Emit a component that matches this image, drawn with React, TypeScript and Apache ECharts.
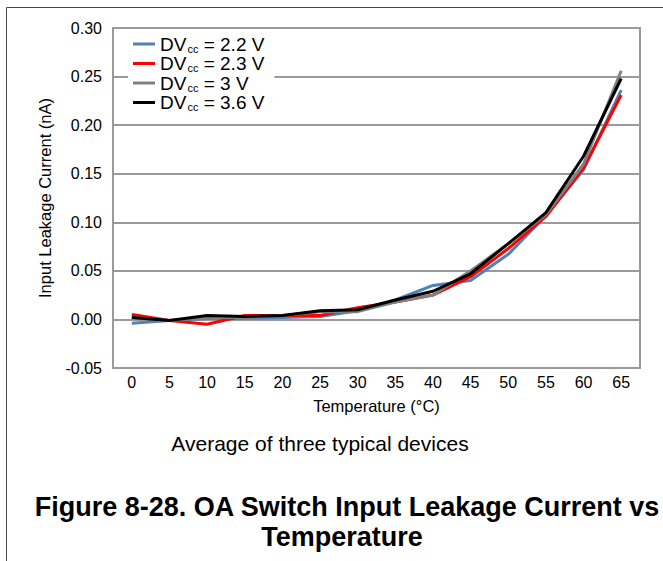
import React, { useEffect, useRef } from "react";
import * as echarts from "echarts";

// Temperature steps (°C)
const temperatures = ["0", "5", "10", "15", "20", "25", "30", "35", "40", "45", "50", "55", "60", "65"];

// Supply voltages for each curve
const supplyLabels = ["2.2", "2.3", "3", "3.6"];

// Input leakage current (nA) per supply voltage
const leak22 = [-0.004, -0.001, 0.001, 0.001, 0.002, 0.003, 0.009, 0.02, 0.035, 0.04, 0.067, 0.107, 0.154, 0.236];
const leak23 = [0.005, -0.001, -0.005, 0.004, 0.004, 0.004, 0.012, 0.018, 0.025, 0.044, 0.073, 0.106, 0.156, 0.231];
const leak30 = [0.002, -0.001, 0.002, 0.002, 0.004, 0.008, 0.008, 0.018, 0.025, 0.05, 0.078, 0.108, 0.16, 0.256];
const leak36 = [0.002, -0.001, 0.004, 0.003, 0.004, 0.009, 0.01, 0.02, 0.029, 0.047, 0.078, 0.11, 0.168, 0.248];

const seriesColors = ["#4f81bd", "#ff0000", "#808080", "#000000"];

const yTicks = { min: -0.05, max: 0.3, step: 0.05 };

const FONT = "'Liberation Sans', Arial, sans-serif";

export default function App() {
  const ref = useRef<HTMLDivElement>(null);

  useEffect(() => {
    if (!ref.current) return;
    const chart = echarts.init(ref.current, null, { renderer: "svg" });
    const values = [leak22, leak23, leak30, leak36];

    chart.setOption({
      animation: false,
      backgroundColor: "#ffffff",
      textStyle: { fontFamily: FONT },
      grid: {
        left: 113,
        top: 28,
        right: 23,
        bottom: 193,
        show: true,
        borderColor: "#9a9a9a",
        borderWidth: 2,
        containLabel: false,
      },
      legend: {
        orient: "vertical",
        left: 128,
        top: 34,
        backgroundColor: "#ffffff",
        padding: [0, 10, 1, 5],
        itemWidth: 22,
        itemHeight: 3,
        itemGap: -0.5,
        icon: "rect",
        data: supplyLabels,
        formatter: (name: string) => `{a|DV}{b|cc}{a| = ${name} V}`,
        textStyle: {
          rich: {
            a: { fontSize: 19, lineHeight: 19, color: "#000", fontFamily: FONT },
            b: { fontSize: 11, lineHeight: 11, color: "#000", fontFamily: FONT, padding: [9, 0, 0, 1] },
          },
        },
      },
      xAxis: {
        type: "category",
        data: temperatures,
        boundaryGap: true,
        name: "Temperature (°C)",
        nameLocation: "middle",
        nameGap: 29,
        nameTextStyle: { fontSize: 16.5, color: "#000", fontFamily: FONT },
        axisLine: { show: true, lineStyle: { color: "#9a9a9a", width: 2 } },
        axisTick: { show: false },
        axisLabel: { fontSize: 16, color: "#000", margin: 6, fontFamily: FONT },
      },
      yAxis: {
        type: "value",
        min: yTicks.min,
        max: yTicks.max,
        interval: yTicks.step,
        name: "Input Leakage Current (nA)",
        nameLocation: "middle",
        nameGap: 60,
        nameTextStyle: { fontSize: 16.5, color: "#000", fontFamily: FONT },
        axisLine: { show: true, lineStyle: { color: "#9a9a9a", width: 2 } },
        axisTick: { show: false },
        axisLabel: {
          fontSize: 16,
          color: "#000",
          margin: 11,
          fontFamily: FONT,
          formatter: (v: number) => v.toFixed(2),
        },
        splitLine: { show: true, lineStyle: { color: "#9a9a9a", width: 2 } },
      },
      series: supplyLabels.map((name, i) => ({
        name,
        type: "line",
        data: values[i],
        showSymbol: false,
        symbol: "none",
        color: seriesColors[i],
        lineStyle: { width: 3, color: seriesColors[i] },
        z: 2 + i,
      })),
      graphic: [
        {
          type: "line",
          shape: { x1: 6.5, y1: 7.5, x2: 663, y2: 7.5 },
          style: { stroke: "#444", lineWidth: 1 },
        },
        {
          type: "line",
          shape: { x1: 6.5, y1: 7.5, x2: 6.5, y2: 561 },
          style: { stroke: "#444", lineWidth: 1 },
        },
        {
          type: "text",
          x: 320,
          y: 443,
          style: {
            text: "Average of three typical devices",
            fontSize: 21,
            fontFamily: FONT,
            fill: "#000",
            align: "center",
            verticalAlign: "middle",
          },
        },
        {
          type: "text",
          x: 347,
          y: 507,
          style: {
            text: "Figure 8-28. OA Switch Input Leakage Current vs",
            fontSize: 27,
            fontWeight: "bold",
            fontFamily: FONT,
            fill: "#000",
            align: "center",
            verticalAlign: "middle",
          },
        },
        {
          type: "text",
          x: 342,
          y: 537,
          style: {
            text: "Temperature",
            fontSize: 27,
            fontWeight: "bold",
            fontFamily: FONT,
            fill: "#000",
            align: "center",
            verticalAlign: "middle",
          },
        },
      ],
    });

    return () => chart.dispose();
  }, []);

  return (
    <div
      ref={ref}
      style={{ position: "fixed", left: 0, top: 0, width: 663, height: 561, background: "#fff" }}
    />
  );
}
